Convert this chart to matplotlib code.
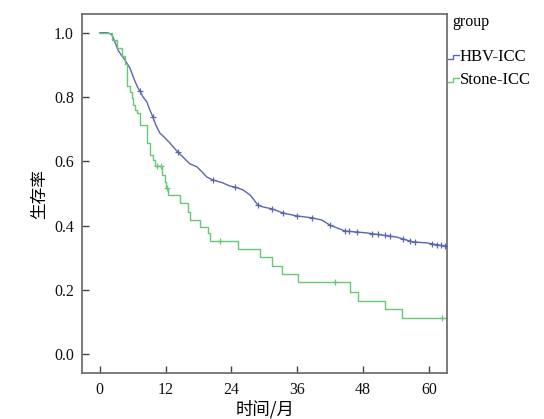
import numpy as np
import matplotlib.pyplot as plt
from matplotlib.lines import Line2D

plt.rcParams['font.family'] = ['Liberation Serif', 'Noto Sans CJK SC']

# HBV-ICC survival curve (months, survival)
hbv_t = [0, 1.46, 2.19, 2.74, 3.28, 4.01, 4.56, 5.11, 5.47, 6.02, 6.38, 6.93, 7.30,
         7.84, 8.57, 9.12, 9.67, 10.2, 10.94, 11.85, 12.77, 13.68, 14.2, 15.3, 16.4,
         17.7, 18.8, 19.5, 20.6, 22.4, 23.7, 24.6, 26.1, 27.4, 28.1, 28.8, 29.7, 31.4,
         33.4, 35.9, 38.7, 40.5, 41.9, 43.2, 44.7, 48.7, 54.2, 55.3, 57.1, 59.6, 62.9]
hbv_s = [1.0, 1.0, 0.994, 0.972, 0.947, 0.928, 0.916, 0.900, 0.891, 0.866, 0.850, 0.829, 0.819,
         0.801, 0.785, 0.760, 0.738, 0.713, 0.688, 0.673, 0.657, 0.639, 0.629, 0.611, 0.592,
         0.583, 0.564, 0.551, 0.542, 0.533, 0.523, 0.520, 0.511, 0.495, 0.480, 0.464, 0.458, 0.452,
         0.439, 0.430, 0.424, 0.417, 0.402, 0.393, 0.383, 0.377, 0.364, 0.358, 0.349, 0.346, 0.336]
hbv_cens_t = [7.3, 9.7, 14.2, 20.6, 24.6, 28.8, 31.4, 33.4, 35.9, 38.7, 41.9, 44.7, 45.4,
              46.9, 49.6, 50.7, 52.0, 52.9, 55.3, 56.5, 57.5, 60.5, 61.5, 62.2, 62.9]

# Stone-ICC survival curve
stone_t = [0, 2.19, 3.10, 4.01, 4.56, 4.92, 5.47, 5.84, 6.02, 6.38, 6.75, 7.30, 8.57,
           9.12, 9.67, 10.03, 11.31, 11.85, 12.1, 12.4, 14.6, 16.05, 16.4, 18.2, 19.7,
           20.06, 25.2, 29.2, 31.4, 33.2, 36.1, 45.6, 47.05, 52.0, 55.1]
stone_s = [1.0, 0.978, 0.953, 0.928, 0.903, 0.835, 0.816, 0.797, 0.776, 0.760, 0.750, 0.713, 0.657,
           0.620, 0.604, 0.586, 0.558, 0.536, 0.517, 0.495, 0.470, 0.442, 0.417, 0.396, 0.377,
           0.352, 0.327, 0.302, 0.274, 0.249, 0.224, 0.193, 0.165, 0.140, 0.112]
stone_cens_t = [10.4, 11.1, 12.2, 21.9, 42.9, 62.4]

t_end = 63.3
blue = '#5b66b3'
green = '#66c878'

fig = plt.figure(figsize=(5.44, 4.19), dpi=100)
ax = fig.add_axes([0.151, 0.109, 0.671, 0.858])

# HBV group is large, its many tiny steps read as a jagged line
ax.plot(list(hbv_t) + [t_end], list(hbv_s) + [hbv_s[-1]], color=blue, lw=1.0)
ax.plot(hbv_cens_t, np.interp(hbv_cens_t, hbv_t, hbv_s), '+', color=blue, ms=5, mew=0.9)

ax.step(list(stone_t) + [t_end], list(stone_s) + [stone_s[-1]], where='post', color=green, lw=1.0)
idx = np.searchsorted(stone_t, stone_cens_t, side='right') - 1
ax.plot(stone_cens_t, np.asarray(stone_s)[idx], '+', color=green, ms=5, mew=0.9)

ax.set_xlim(-3.23, 63.34)
ax.set_ylim(-0.06, 1.059)
ax.set_xticks([0, 12, 24, 36, 48, 60])
ax.set_yticks([0.0, 0.2, 0.4, 0.6, 0.8, 1.0])
ax.yaxis.set_major_formatter(plt.FormatStrFormatter('%.1f'))
ax.tick_params(direction='in', length=5, width=1, colors='#444444', labelcolor='#111111',
               labelsize=11.5, pad=6)
for s in ax.spines.values():
    s.set_color('#666666')
    s.set_linewidth(1.2)

ax.set_xlabel('时间/月', fontsize=12.5, family=['Noto Sans CJK SC'], labelpad=2)
ax.set_ylabel('生存率', fontsize=12, family=['Noto Sans CJK SC'], labelpad=4)

# legend outside the plot, drawn by hand
W, H = 544, 419
fig.text(452 / W, 1 - 22 / H, 'group', fontsize=11.5, va='center', ha='left')
for y, lab, c in [(57, 'HBV-ICC', blue), (80, 'Stone-ICC', green)]:
    xs = np.array([448, 453, 453, 459]) / W
    ys = 1 - np.array([y + 2, y + 2, y - 2, y - 2]) / H
    fig.add_artist(Line2D(xs, ys, color=c, lw=1.0, transform=fig.transFigure))
    fig.text(460 / W, 1 - y / H, lab, fontsize=12, va='center', ha='left')

fig.savefig('out.png', dpi=100)
